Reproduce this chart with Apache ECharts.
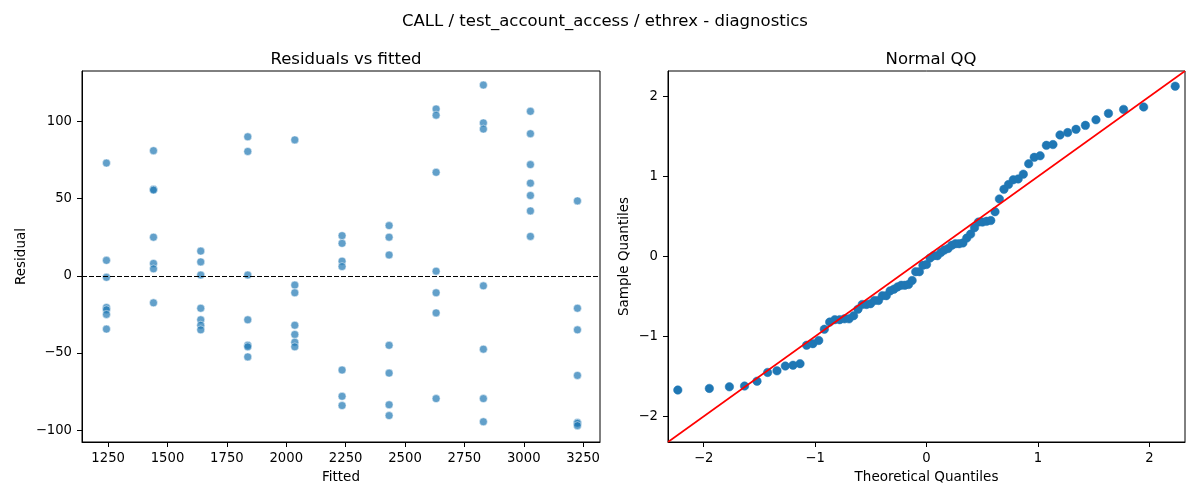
<!DOCTYPE html>
<html>
<head>
<meta charset="utf-8">
<script src="https://cdn.jsdelivr.net/npm/echarts@6/dist/echarts.min.js"></script>
<style>
  html, body { margin: 0; padding: 0; background: #fff; }
  #chart { width: 1200px; height: 500px; }
</style>
</head>
<body>
<div id="chart"></div>
<script>
// fitted levels (x) and the residuals seen at each level
const FITTED_LEVELS = [1243, 1441, 1640, 1838, 2036, 2235, 2433, 2631, 2830, 3028, 3226];
const RESIDUALS_BY_LEVEL = [
  [73, 10, -1, -20.5, -22, -25, -34.5],
  [81, 56, 55.5, 25, 8, 4.5, -17.5],
  [16, 9, 0.5, -21, -28.5, -32, -35],
  [90, 80.5, 0.5, -28.5, -45, -46, -52.5],
  [88, -6, -11, -32, -38, -43, -46],
  [26, 21, 9.5, 6, -61, -78, -84],
  [32.5, 25, 13.5, -45, -63, -83.5, -90.5],
  [108, 104, 67, 3, -11, -24, -79.5],
  [123.5, 99, 95, -6.5, -47.5, -79.5, -94.5],
  [106.5, 92, 72, 60, 52, 42, 25.5],
  [48.5, -21, -35, -64.5, -95, -95.5, -97],
];
const FITTED_TICKS = [1250, 1500, 1750, 2000, 2250, 2500, 2750, 3000, 3250];
const RESIDUAL_TICKS = [-100, -50, 0, 50, 100];

// normal QQ points
const THEORETICAL_Q = [
  -2.232, -1.949, -1.769, -1.633, -1.521, -1.426, -1.342, -1.267, -1.198, -1.135,
  -1.076, -1.020, -0.967, -0.917, -0.869, -0.823, -0.779, -0.736, -0.695, -0.654,
  -0.615, -0.577, -0.539, -0.502, -0.466, -0.431, -0.396, -0.361, -0.327, -0.293,
  -0.260, -0.227, -0.194, -0.161, -0.129, -0.097, -0.064, -0.032, 0,
  0.032, 0.064, 0.097, 0.129, 0.161, 0.194, 0.227, 0.260, 0.293, 0.327,
  0.361, 0.396, 0.431, 0.466, 0.502, 0.539, 0.577, 0.615, 0.654, 0.695,
  0.736, 0.779, 0.823, 0.869, 0.917, 0.967, 1.020, 1.076, 1.135, 1.198,
  1.267, 1.342, 1.426, 1.521, 1.633, 1.769, 1.949, 2.232,
];
const SAMPLE_Q = [
  -1.67, -1.65, -1.63, -1.62, -1.56, -1.45, -1.43, -1.37, -1.36, -1.34,
  -1.11, -1.09, -1.05, -0.91, -0.82, -0.79, -0.79, -0.78, -0.78, -0.74,
  -0.66, -0.60, -0.60, -0.59, -0.55, -0.55, -0.49, -0.49, -0.43, -0.41,
  -0.38, -0.36, -0.36, -0.35, -0.30, -0.19, -0.19, -0.11, -0.10, -0.02,
  0.01, 0.01, 0.05, 0.08, 0.10, 0.14, 0.16, 0.16, 0.17, 0.23,
  0.28, 0.36, 0.43, 0.43, 0.44, 0.45, 0.56, 0.72, 0.84, 0.90,
  0.96, 0.97, 1.03, 1.16, 1.24, 1.26, 1.39, 1.40, 1.52, 1.55,
  1.59, 1.64, 1.71, 1.79, 1.84, 1.87, 2.13,
];
const QQ_TICKS = [-2, -1, 0, 1, 2];
const QQ_LIMITS = [-2.32, 2.32];

const FONT = "DejaVu Sans";

let residualPoints = [];
FITTED_LEVELS.forEach((fx, i) => {
  RESIDUALS_BY_LEVEL[i].forEach((r) => residualPoints.push([fx, r]));
});
let qqPoints = THEORETICAL_Q.map((q, i) => [q, SAMPLE_Q[i]]);

// matplotlib style tick text: no thousands separator, real minus sign
function tickText(value) {
  return String(value).replace("-", "\u2212");
}

const AXIS_LINE = { show: true, onZero: false, lineStyle: { color: "#000", width: 1 } };
const AXIS_LABEL = { color: "#000", fontFamily: FONT, fontSize: 13.2, formatter: tickText };
const AXIS_NAME = { color: "#000", fontFamily: FONT, fontSize: 13.5 };

function valueAxis(extra, ticks) {
  return {
    type: "value",
    splitLine: { show: false },
    axisLine: { ...AXIS_LINE },
    axisTick: { show: true, inside: false, length: 5, lineStyle: { color: "#000" }, customValues: ticks },
    axisLabel: { ...AXIS_LABEL, margin: 10, customValues: ticks },
    nameLocation: "middle",
    nameTextStyle: { ...AXIS_NAME },
    ...extra,
  };
}

let chart = echarts.init(document.getElementById("chart"), null, { renderer: "canvas" });

let option = {
  backgroundColor: "#fff",
  animation: false,
  title: [
    {
      text: "CALL / test_account_access / ethrex - diagnostics",
      left: 600, top: 8, textAlign: "center",
      textStyle: { fontFamily: FONT, fontSize: 16.5, fontWeight: "normal", color: "#000" },
    },
    {
      text: "Residuals vs fitted",
      left: 341, top: 46, textAlign: "center",
      textStyle: { fontFamily: FONT, fontSize: 16.5, fontWeight: "normal", color: "#000" },
    },
    {
      text: "Normal QQ",
      left: 926, top: 46, textAlign: "center",
      textStyle: { fontFamily: FONT, fontSize: 16.5, fontWeight: "normal", color: "#000" },
    },
  ],
  grid: [
    { left: 82, top: 71, width: 518, height: 371, show: true, borderColor: "#000", borderWidth: 1, backgroundColor: "transparent" },
    { left: 668, top: 71, width: 517, height: 371, show: true, borderColor: "#000", borderWidth: 1, backgroundColor: "transparent" },
  ],
  xAxis: [
    valueAxis({ gridIndex: 0, min: 1140, max: 3321, name: "Fitted", nameGap: 28 }, FITTED_TICKS),
    valueAxis({ gridIndex: 1, min: QQ_LIMITS[0], max: QQ_LIMITS[1], name: "Theoretical Quantiles", nameGap: 28 }, QQ_TICKS),
  ],
  yAxis: [
    valueAxis({ gridIndex: 0, min: -107.6, max: 132.6, name: "Residual", nameGap: 54, nameRotate: 90 }, RESIDUAL_TICKS),
    valueAxis({ gridIndex: 1, min: QQ_LIMITS[0], max: QQ_LIMITS[1], name: "Sample Quantiles", nameGap: 37, nameRotate: 90 }, QQ_TICKS),
  ],
  series: [
    {
      name: "residuals",
      type: "scatter",
      xAxisIndex: 0,
      yAxisIndex: 0,
      symbolSize: 8,
      data: residualPoints,
      itemStyle: { color: "#1f77b4", opacity: 0.7, borderColor: "#fff", borderWidth: 0.7 },
      markLine: {
        silent: true,
        symbol: "none",
        label: { show: false },
        lineStyle: { color: "#000", type: [5, 2], width: 1 },
        data: [{ yAxis: 0 }],
      },
    },
    {
      name: "qq line",
      type: "line",
      xAxisIndex: 1,
      yAxisIndex: 1,
      symbol: "none",
      data: QQ_LIMITS.map((v) => [v, v]),
      lineStyle: { color: "#ff0000", width: 1.6 },
      z: 3,
    },
    {
      name: "qq",
      type: "scatter",
      xAxisIndex: 1,
      yAxisIndex: 1,
      symbolSize: 8.5,
      data: qqPoints,
      itemStyle: { color: "#1f77b4", opacity: 1, borderColor: "#1f77b4", borderWidth: 0.5 },
      z: 2,
    },
  ],
};

option && chart.setOption(option);
</script>
</body>
</html>
